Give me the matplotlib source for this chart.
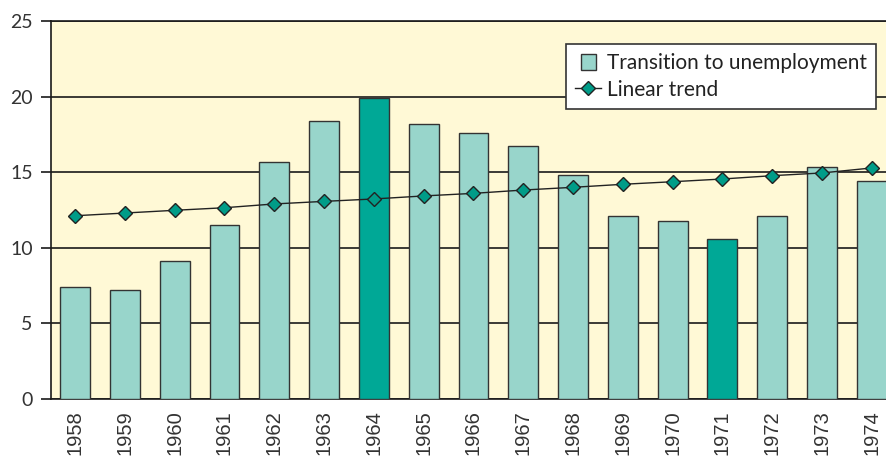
import matplotlib
matplotlib.use('Agg')
import matplotlib.pyplot as plt
from matplotlib.patches import Rectangle
from matplotlib.legend_handler import HandlerPatch
import numpy as np

# data
years = ['1958', '1959', '1960', '1961', '1962', '1963', '1964', '1965', '1966',
         '1967', '1968', '1969', '1970', '1971', '1972', '1973', '1974']
transition = [7.4, 7.2, 9.1, 11.5, 15.7, 18.4, 19.9, 18.2, 17.6,
              16.7, 14.8, 12.1, 11.75, 10.6, 12.1, 15.35, 14.4]
trend = [12.12, 12.30, 12.48, 12.65, 12.90, 13.07, 13.23, 13.43, 13.60,
         13.82, 14.00, 14.20, 14.37, 14.55, 14.77, 14.95, 15.28]
highlight = ['1964', '1971']

light = '#98d5cb'
dark = '#00a896'
bg = '#fff9d6'


# square legend key for the bars
def square_patch(legend, orig_handle, xdescent, ydescent, width, height, fontsize):
    side = height * 1.05
    return Rectangle(((width - side) / 2 - xdescent, -ydescent + (height - side) / 2), side, side)


fig = plt.figure(figsize=(8.86, 4.57), dpi=100)
ax = fig.add_axes([50.7 / 886, 58 / 457, 846 / 886, 378 / 457])
ax.set_facecolor(bg)

x = np.arange(len(years))
colors = [dark if y in highlight else light for y in years]
bars = ax.bar(x, transition, width=0.6, color=colors, edgecolor='#333333',
              linewidth=1.0, zorder=3, label='Transition to unemployment')
line, = ax.plot(x, trend, color='#222222', lw=1.0, marker='D', ms=7.5,
                mfc='#009c88', mec='#222222', mew=1.0, zorder=4, label='Linear trend')

ax.set_ylim(0, 25)
ax.set_xlim(-0.49, 16.5)
ax.set_yticks([0, 5, 10, 15, 20, 25])
ax.yaxis.grid(True, color='#1a1a1a', lw=1.2, zorder=1)
ax.set_axisbelow(True)
ax.tick_params(axis='y', length=7, width=1.2, color='#1a1a1a', pad=6,
               labelsize=14, labelcolor='#333333')
for lab in ax.get_yticklabels():
    lab.set_family(['Lato', 'DejaVu Sans'])

ax.set_xticks(x)
ax.set_xticklabels(years, rotation=90, fontsize=14.5, family=['Liberation Sans', 'DejaVu Sans'],
                   color='#333333', va='top')
ax.tick_params(axis='x', length=0, pad=8)

for s in ['left', 'top', 'bottom']:
    ax.spines[s].set_color('#1a1a1a')
    ax.spines[s].set_linewidth(1.2)
ax.spines['right'].set_visible(False)

leg = ax.legend([bars[0], line], ['Transition to unemployment', 'Linear trend'],
                loc='upper left', bbox_to_anchor=(566 / 886, 1 - 44 / 457),
                bbox_transform=fig.transFigure, frameon=True, fancybox=False,
                edgecolor='#333333', framealpha=1, facecolor='white',
                prop={'family': ['Lato', 'DejaVu Sans'], 'size': 15},
                handlelength=1.25, handletextpad=0.25, borderpad=0.45,
                labelspacing=0.3, borderaxespad=0,
                handler_map={Rectangle: HandlerPatch(patch_func=square_patch)})
leg.get_frame().set_linewidth(1.2)
leg.set_zorder(10)
for t in leg.get_texts():
    t.set_color('#222222')

fig.savefig('out.png', dpi=100)
